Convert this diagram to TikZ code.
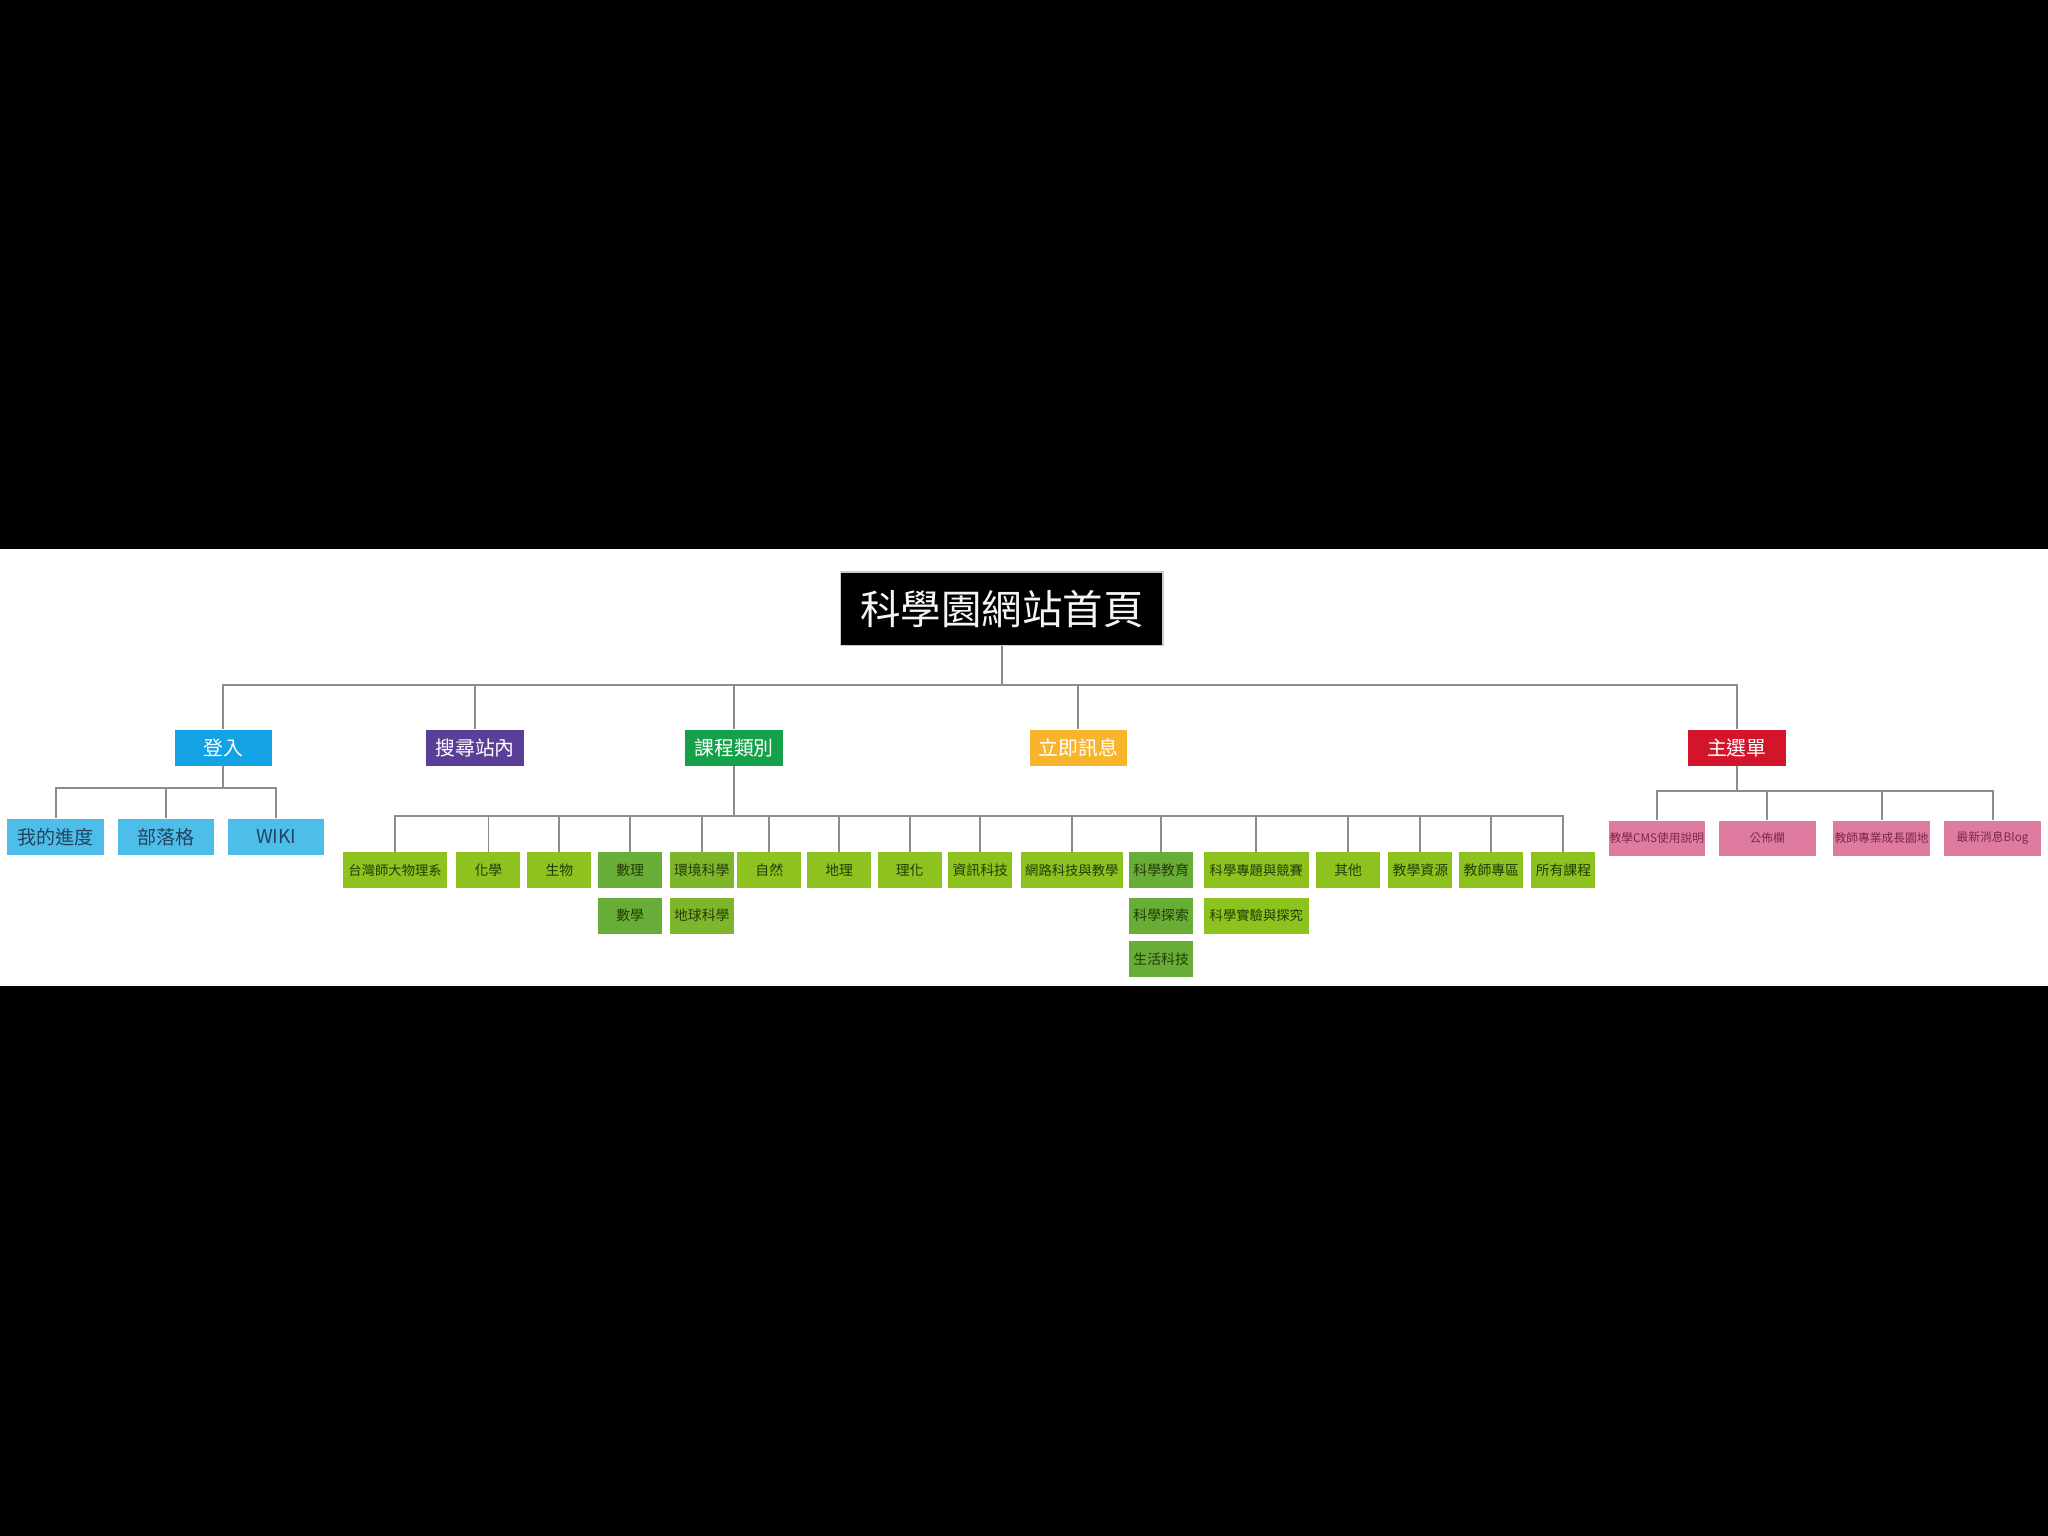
\documentclass[tikz,border=0pt]{standalone}
\usepackage{fontspec}
\setmainfont{Noto Sans CJK TC}
\usepackage{tikz}
\usetikzlibrary{calc}
\definecolor{headcyan}{HTML}{13A2E4}
\definecolor{headpurple}{HTML}{5B3E97}
\definecolor{headgreen}{HTML}{15A04A}
\definecolor{headamber}{HTML}{F8B52B}
\definecolor{headred}{HTML}{D3152B}
\definecolor{loginblue}{HTML}{4DBDEA}
\definecolor{logintext}{HTML}{24445E}
\definecolor{leaflight}{HTML}{8DC21F}
\definecolor{leafmid}{HTML}{7DB62B}
\definecolor{leafdark}{HTML}{67AD37}
\definecolor{leafink}{HTML}{243C05}
\definecolor{pinkbox}{HTML}{DF7AA0}
\definecolor{pinktext}{HTML}{7A2848}
\definecolor{linegray}{HTML}{8C8C8C}
\tikzset{
	% Box styles for the site map: root, heads and leaves
	base box/.style={rectangle,inner sep=0,minimum height=13.75pt,align=center},
	root box/.style={base box,fill=black,draw=gray!40,line width=0.5pt,minimum width=123.5pt,minimum height=28pt,text=white!92!gray,font=\fontsize{15.5}{16}\selectfont},
	head box/.style={base box,fill=#1,minimum width=37.25pt,text=white,font=\fontsize{7.6}{8}\selectfont},
	login box/.style={base box,fill=loginblue,minimum width=37pt,minimum height=14pt,text=logintext,font=\fontsize{7.3}{8}\selectfont},
	leaf box/.style={base box,fill=leaflight,minimum width=24.5pt,text=leafink,font=\fontsize{5.3}{6}\selectfont\color{leafink}},
	long leaf/.style={leaf box,minimum width=40pt,font=\fontsize{5.1}{6}\selectfont\color{leafink}},
	pink box/.style={base box,fill=pinkbox,minimum width=37pt,minimum height=13.5pt,text=pinktext,font=\fontsize{4.5}{5}\selectfont},
	link/.style={draw=linegray,line width=0.75pt}
}

\begin{document}
\begin{tikzpicture}[x=0.5pt,y=-0.5pt]
	% macro for a leaf box and for an elbow connector through a bus line
	\newcommand{\leaf}[4][leaf box]{\node(#2)[#1]at(#3){#4};}
	\newcommand{\elbow}[3]{\draw[link](#1.south)|-(#3 -| #2.north)--(#2.north);}
	
	% page: black with a white band
	\useasboundingbox[fill=black](0,0) rectangle (1568,1176);
	\fill[white](0,420) rectangle (1568,755);
	
	\coordinate(bus0) at (0,524.5);
	\coordinate(bus1) at (0,603.5);
	\coordinate(bus3) at (0,625);
	\coordinate(bus5) at (0,605.4);
	
	\node(0)[root box] at (767,466){科學園網站首頁};
	
	\node(0-1)[head box=headcyan] at (171,572.5){登入};
	\node(0-2)[head box=headpurple] at (363.7,572.5){搜尋站內};
	\node(0-3)[head box=headgreen] at (562,572.5){課程類別};
	\node(0-4)[head box=headamber] at (825.6,572.5){立即訊息};
	\node(0-5)[head box=headred] at (1329.8,572.5){主選單};
	
	\node(0-1-1)[login box] at (42.7,640.7){我的進度};
	\node(0-1-2)[login box] at (127,640.7){部落格};
	\node(0-1-3)[login box] at (211.4,640.7){WIKI};
	
	\leaf[long leaf]{0-3-1}{302.5,666.3}{台灣師大物理系}
	\leaf{0-3-2}{374,666.3}{化學}
	\leaf{0-3-3}{428.3,666.3}{生物}
	\leaf[leaf box,fill=leafdark]{0-3-4}{482.5,666.3}{數理}
	\leaf[leaf box,fill=leafmid]{0-3-5}{537.3,666.3}{環境科學}
	\leaf{0-3-6}{589,666.3}{自然}
	\leaf{0-3-7}{642.5,666.3}{地理}
	\leaf{0-3-8}{696.5,666.3}{理化}
	\leaf{0-3-9}{750.5,666.3}{資訊科技}
	\leaf[long leaf,minimum width=39pt]{0-3-10}{820.6,666.3}{網路科技與教學}
	\leaf[leaf box,fill=leafdark]{0-3-11}{889,666.3}{科學教育}
	\leaf[long leaf]{0-3-12}{961.9,666.3}{科學專題與競賽}
	\leaf{0-3-13}{1032.2,666.3}{其他}
	\leaf{0-3-14}{1087.5,666.3}{教學資源}
	\leaf{0-3-15}{1141.8,666.3}{教師專區}
	\leaf{0-3-16}{1197,666.3}{所有課程}
	
	\leaf[leaf box,fill=leafdark]{0-3-4-1}{482.5,701}{數學}
	\leaf[leaf box,fill=leafmid]{0-3-5-1}{537.3,701}{地球科學}
	\leaf[leaf box,fill=leafdark]{0-3-11-1}{889,701}{科學探索}
	\leaf[long leaf]{0-3-12-1}{961.9,701}{科學實驗與探究}
	\leaf[leaf box,fill=leafdark]{0-3-11-2}{889,734.5}{生活科技}
	
	\node(0-5-1)[pink box] at (1268.5,641.9){教學CMS使用說明};
	\node(0-5-2)[pink box] at (1353,641.9){公佈欄};
	\node(0-5-3)[pink box] at (1440.6,641.9){教師專業成長園地};
	\node(0-5-4)[pink box] at (1525.6,641.9){最新消息Blog};
	
	% connectors
	\foreach \c in {1,...,5}{\elbow{0}{0-\c}{bus0}}
	\foreach \c in {1,2,3}{\elbow{0-1}{0-1-\c}{bus1}}
	\foreach \c in {1,...,16}{\elbow{0-3}{0-3-\c}{bus3}}
	\foreach \c in {1,...,4}{\elbow{0-5}{0-5-\c}{bus5}}
\end{tikzpicture}
\end{document}
